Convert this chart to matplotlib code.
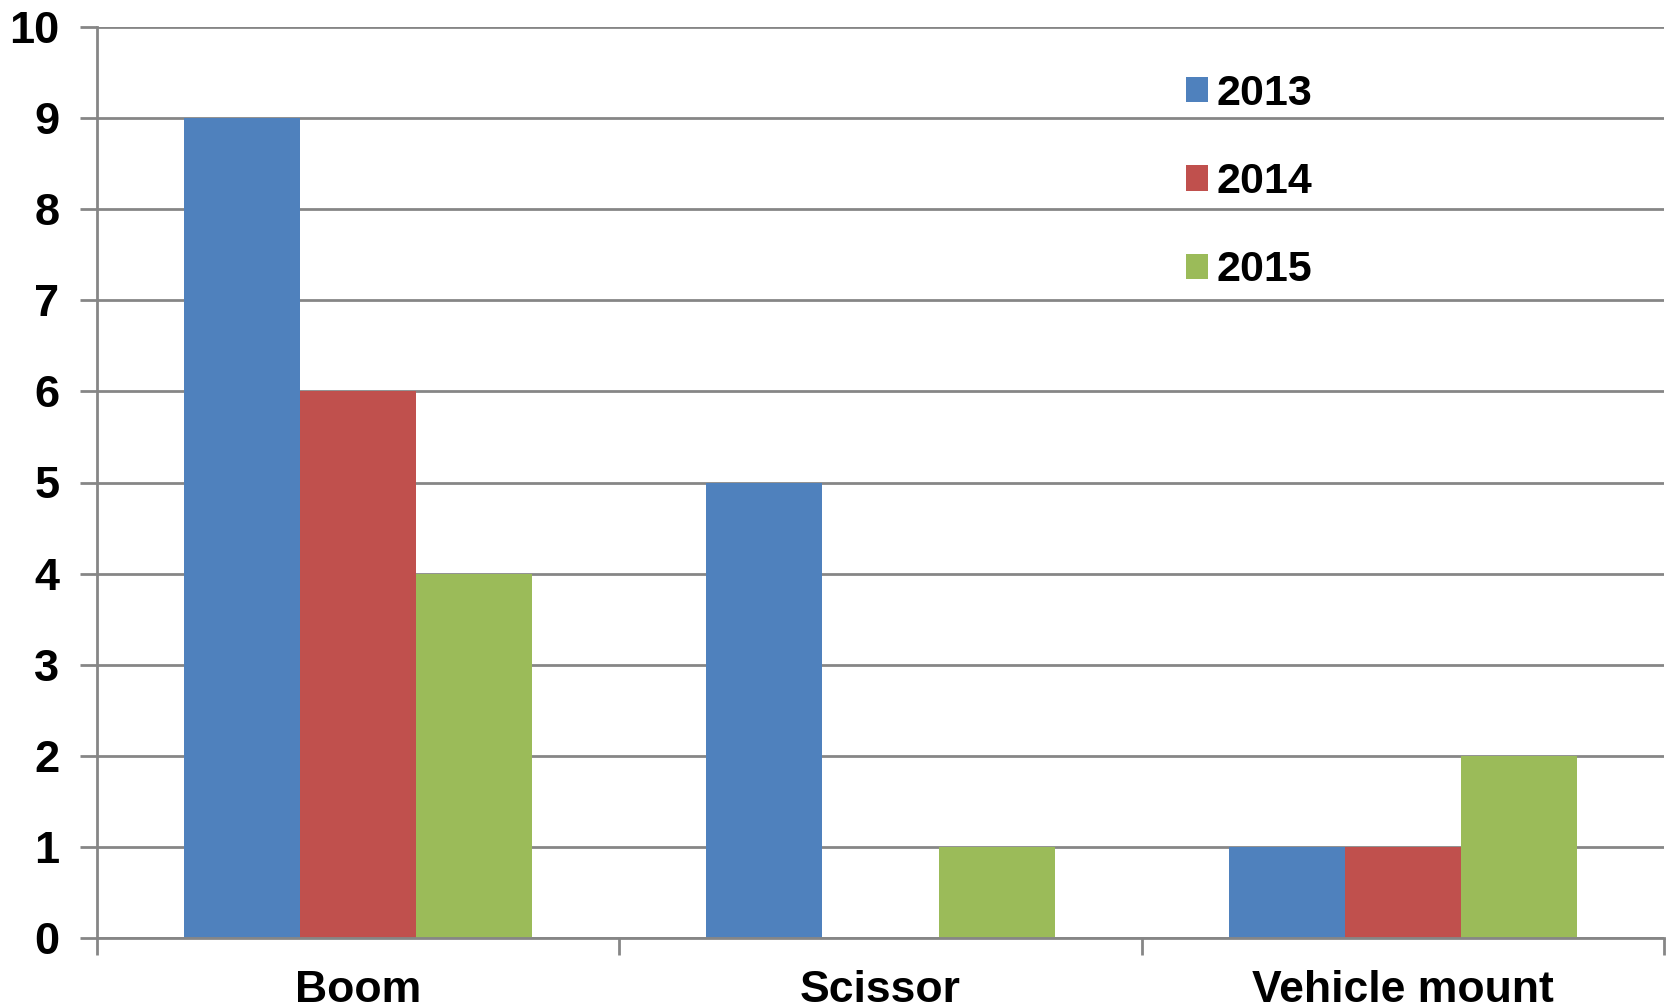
import matplotlib
matplotlib.use("Agg")
import matplotlib.pyplot as plt
import numpy as np

categories = ["Boom", "Scissor", "Vehicle mount"]
series_names = ["2013", "2014", "2015"]
values_2013 = [9, 5, 1]
values_2014 = [6, 0, 1]
values_2015 = [4, 1, 2]
colors = ["#4F81BD", "#C0504D", "#9BBB59"]

plt.rcParams['font.family'] = ['Liberation Sans', 'DejaVu Sans']
plt.rcParams['font.weight'] = 'bold'

fig = plt.figure(figsize=(16.67, 10.06), dpi=100)
ax = fig.add_axes([97/1667, (1006-938)/1006, (1664-97)/1667, (938-27)/1006])

x = np.arange(len(categories))
w = 1/4.5
for i, (vals, name, c) in enumerate(zip([values_2013, values_2014, values_2015], series_names, colors)):
    ax.bar(x + (i-1)*w, vals, width=w, color=c, label=name, zorder=3, linewidth=0)

ax.set_xlim(-0.5, 2.5)
ax.set_ylim(0, 10)
ax.set_yticks(range(0, 11))
ax.set_xticks([-0.5, 0.5, 1.5, 2.5], minor=False)
ax.set_xticklabels([])
ax.set_xticks(x, minor=True)
ax.set_xticklabels(categories, minor=True)
ax.tick_params(axis='x', which='minor', length=0, pad=23, labelsize=32)
ax.tick_params(axis='x', which='major', length=12, width=2, color='#868686', direction='out')
ax.tick_params(axis='y', length=12, width=2, color='#868686', direction='out', pad=15, labelsize=32.5)
for lab in ax.get_xticklabels(minor=True) + ax.get_yticklabels():
    lab.set_fontweight('bold')

ax.grid(axis='y', color='#868686', linewidth=2, zorder=0)
ax.set_axisbelow(True)
for s in ['top', 'right']:
    ax.spines[s].set_visible(False)
for s in ['left', 'bottom']:
    ax.spines[s].set_color('#868686')
    ax.spines[s].set_linewidth(2)
    ax.spines[s].set_zorder(4)

leg = ax.legend(loc='upper left', bbox_to_anchor=(1186/1667, 1-74/1006), bbox_transform=fig.transFigure,
                frameon=False, fontsize=31, handlelength=0.52, handleheight=0.52,
                handletextpad=0.18, labelspacing=1.12, borderpad=0, borderaxespad=0)
for t in leg.get_texts():
    t.set_fontweight('bold')

fig.savefig("out.png", dpi=100)
